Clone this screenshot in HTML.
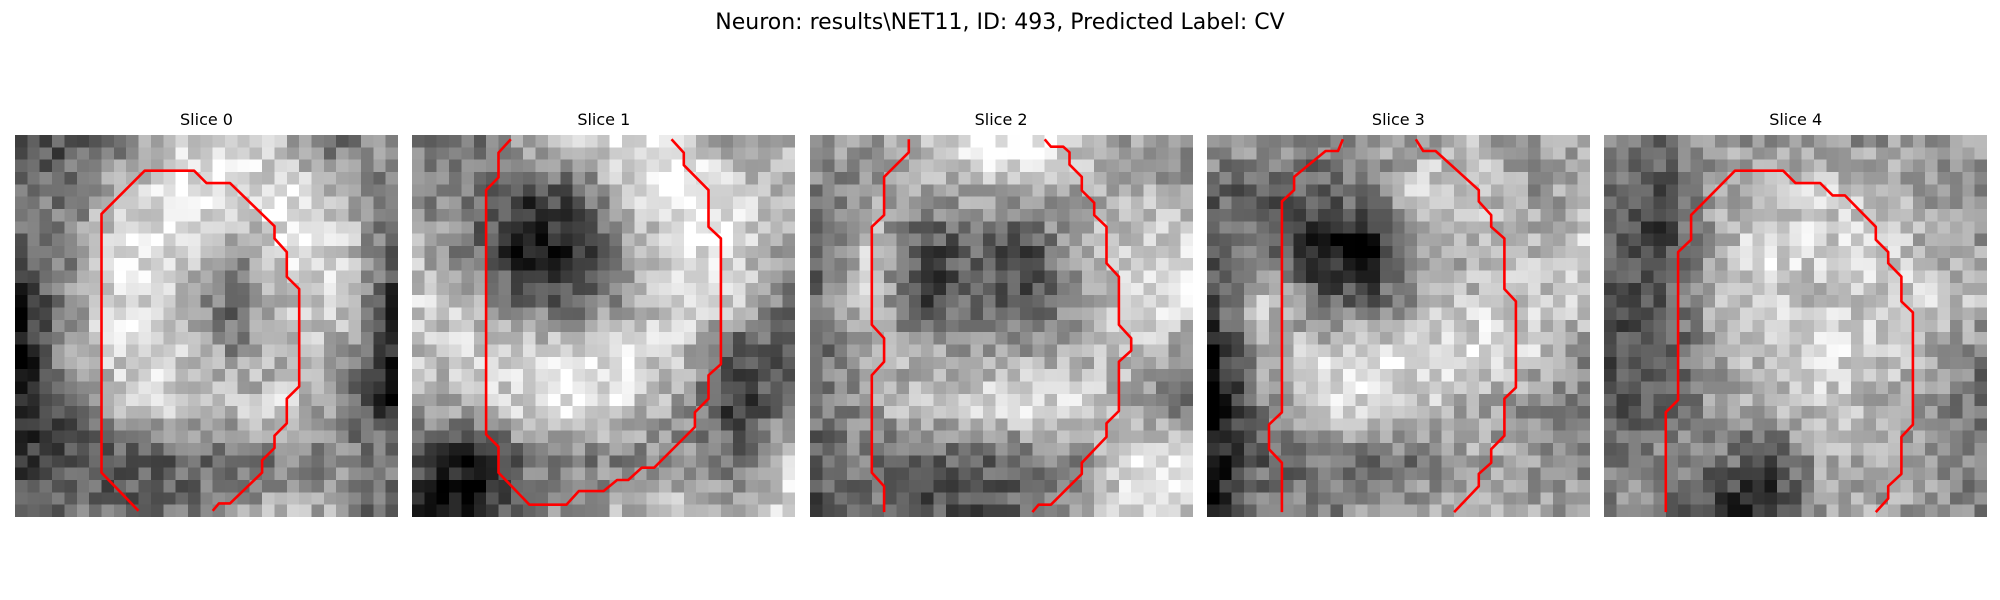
<!DOCTYPE html>
<html><head><meta charset="utf-8"><style>
body{margin:0;background:#fff;width:2000px;height:600px;position:relative;overflow:hidden;font-family:"Liberation Sans","DejaVu Sans",sans-serif}
#title{position:absolute;left:0;width:2000px;top:10px;text-align:center;font-size:22px;color:#000;font-family:"DejaVu Sans","Liberation Sans",sans-serif}
.panel{position:absolute;top:135px;width:383px;height:382px}
.panel canvas{width:383px;height:382px;image-rendering:pixelated;display:block}
.panel svg{position:absolute;left:0;top:0}
.ptitle{position:absolute;top:-25px;left:0;width:383px;text-align:center;font-size:16px;font-family:"DejaVu Sans","Liberation Sans",sans-serif}
</style></head><body>
<div id="title">Neuron: results\NET11, ID: 493, Predicted Label: CV</div>
<div id="root"></div>
<script>
const sliceTitles=["Slice 0","Slice 1","Slice 2","Slice 3","Slice 4"];
const coarse0=[[80,100,130,190,200,170,110,150],[120,130,190,215,200,210,180,120],[110,140,215,195,150,200,200,110],[60,150,210,180,110,180,190,80],[40,170,200,190,140,170,170,70],[70,110,180,190,180,190,140,60],[80,90,100,110,120,130,130,140],[100,120,110,120,150,170,160,90]];
const coarse1=[[120,110,170,200,210,200,150,170],[140,130,80,100,190,220,200,170],[170,120,50,70,150,210,200,150],[190,170,110,100,150,200,200,120],[180,190,200,200,210,180,90,100],[160,170,200,210,190,150,70,120],[100,40,120,130,130,140,120,190],[60,40,130,150,170,180,170,200]];
const coarse2=[[160,150,180,220,230,190,150,150],[130,150,150,160,160,160,170,150],[110,190,90,110,90,160,190,200],[120,200,70,120,80,150,200,210],[110,160,160,150,160,170,190,140],[120,150,190,200,210,190,150,120],[110,130,100,110,120,140,210,220],[90,120,100,100,110,150,200,190]];
const coarse3=[[150,160,130,150,160,170,150,170],[110,100,110,130,200,190,150,160],[110,130,40,40,150,170,170,190],[100,190,110,110,160,180,190,180],[50,170,190,200,200,210,190,150],[40,140,190,200,190,160,140,120],[50,110,120,110,130,160,150,130],[50,140,120,150,160,170,160,150]];
const coarse4=[[140,110,150,150,140,150,140,160],[120,90,150,180,190,170,150,140],[110,80,170,200,190,190,170,150],[90,100,170,190,180,190,190,170],[100,90,160,180,200,190,170,130],[100,110,150,170,180,170,150,110],[130,140,130,90,160,160,150,120],[140,130,70,60,150,160,150,130]];
const coarseAll=[coarse0,coarse1,coarse2,coarse3,coarse4];
const contour0=[[[10,30.5],[7,27.4],[7,6.4],[10.5,2.9],[14.5,2.9],[15.5,3.9],[17.4,3.9],[21,7.4],[21,8.4],[22,9.5],[22,11.5],[23,12.5],[23,20.4],[22,21.4],[22,23.4],[21,24.4],[21,25.4],[20,26.4],[20,27.4],[17.4,29.9],[16.5,29.9],[16,30.5]]];
const contour1=[[[8,0.35],[7,1.44],[7,3.44],[6,4.47],[6,24.3],[7,25.3],[7,27.4],[9.5,30],[12.5,30],[13.5,28.9],[15.5,28.9],[16.6,28],[17.5,28],[18.6,27],[19.6,27],[22.9,23.7],[22.9,22.5],[24,21.4],[24,19.5],[25,18.6],[25,8.4],[24,7.45],[24,4.47],[22,2.44],[22,1.44],[21,0.35]]];
const contour2=[[[8,0.35],[8,1.4],[6,3.4],[6,6.5],[5,7.45],[5,15.4],[6,16.5],[6,18.4],[5,19.5],[5,27.4],[6,28.5],[6,30.6]],[[19,0.35],[19.5,0.95],[20.5,0.95],[21,1.4],[21,2.4],[22,3.4],[22,4.5],[23,5.5],[23,6.5],[24,7.45],[24,10.4],[25,11.5],[25,15.4],[26,16.5],[26,17.5],[25,18.4],[25,22.4],[24,23.4],[24,24.5],[22,26.6],[22,27.5],[19.5,30],[18.5,30],[18,30.6]]];
const contour3=[[[11,0.35],[10.6,1.3],[9.6,1.3],[7.05,3.4],[7.05,4.47],[6.06,5.4],[6.06,22.5],[5.02,23.5],[5.02,25.5],[6.06,26.6],[6.06,30.6]],[[16.9,0.35],[17.5,1.3],[18.5,1.3],[22,4.47],[22,5.4],[23,6.5],[23,7.45],[24.07,8.4],[24.07,12.5],[25,13.5],[25,20.5],[24.07,21.4],[24.07,24.4],[23,25.5],[23,26.6],[22,27.5],[22,28.5],[20,30.6]]];
const contour4=[[[5,30.6],[5,22.5],[6,21.5],[6,9.5],[7.05,8.5],[7.05,6.5],[10.6,2.9],[14.5,2.9],[15.5,3.9],[17.5,3.9],[18.5,4.9],[19.5,4.9],[22,7.45],[22,8.5],[23,9.5],[23,10.4],[24.07,11.5],[24.07,13.5],[25,14.4],[25,23.5],[24.07,24.5],[24.07,27.5],[23,28.5],[23,29.5],[22,30.6]]];
const contourAll=[contour0,contour1,contour2,contour3,contour4];

const N=31,W=383,H=382;
function hash(a,b,c){let h=(a*374761393+b*668265263+c*2147483647)|0;h=(h^(h>>>13))*1274126177|0;h=h^(h>>>16);return ((h>>>0)%1000)/1000-0.5;}
function sample(g,x,y){const n=g.length;const fx=Math.min(Math.max(x*(n-1)/(N-1),0),n-1),fy=Math.min(Math.max(y*(n-1)/(N-1),0),n-1);
 const x0=Math.floor(fx),y0=Math.floor(fy),x1=Math.min(x0+1,n-1),y1=Math.min(y0+1,n-1),tx=fx-x0,ty=fy-y0;
 return g[y0][x0]*(1-tx)*(1-ty)+g[y0][x1]*tx*(1-ty)+g[y1][x0]*(1-tx)*ty+g[y1][x1]*tx*ty;}
const root=document.getElementById('root');
for(let s=0;s<5;s++){
 const p=document.createElement('div');p.className='panel';p.style.left=(15+s*397.3)+'px';
 
 
 const t=document.createElement('div');t.className='ptitle';t.textContent=sliceTitles[s];
 
 
 p.appendChild(t);
 const c=document.createElement('canvas');c.width=N;c.height=N;
 
 
 const ctx=c.getContext('2d');const im=ctx.createImageData(N,N);
 for(let y=0;y<N;y++)for(let x=0;x<N;x++){let v=sample(coarseAll[s],x,y);v=140+(v-140)*1.35+hash(x,y,s+1)*80;v=Math.max(0,Math.min(255,Math.round(v)));const i=(y*N+x)*4;im.data[i]=im.data[i+1]=im.data[i+2]=v;im.data[i+3]=255;}
 ctx.putImageData(im,0,0);p.appendChild(c);
 const ns='http://www.w3.org/2000/svg';const svg=document.createElementNS(ns,'svg');svg.setAttribute('width',W);svg.setAttribute('height',H);
 contourAll[s].forEach((seg,k)=>{const pl=document.createElementNS(ns,'polyline');
  pl.setAttribute('points',seg.map(q=>(q[0]*W/N).toFixed(1)+','+(q[1]*H/N).toFixed(1)).join(' '));
  pl.setAttribute('fill','none');pl.setAttribute('stroke','#ff0000');pl.setAttribute('stroke-width','2.6');pl.setAttribute('stroke-linejoin','round');
  
  
  svg.appendChild(pl);});
 p.appendChild(svg);root.appendChild(p);
}
</script>
</body></html>
